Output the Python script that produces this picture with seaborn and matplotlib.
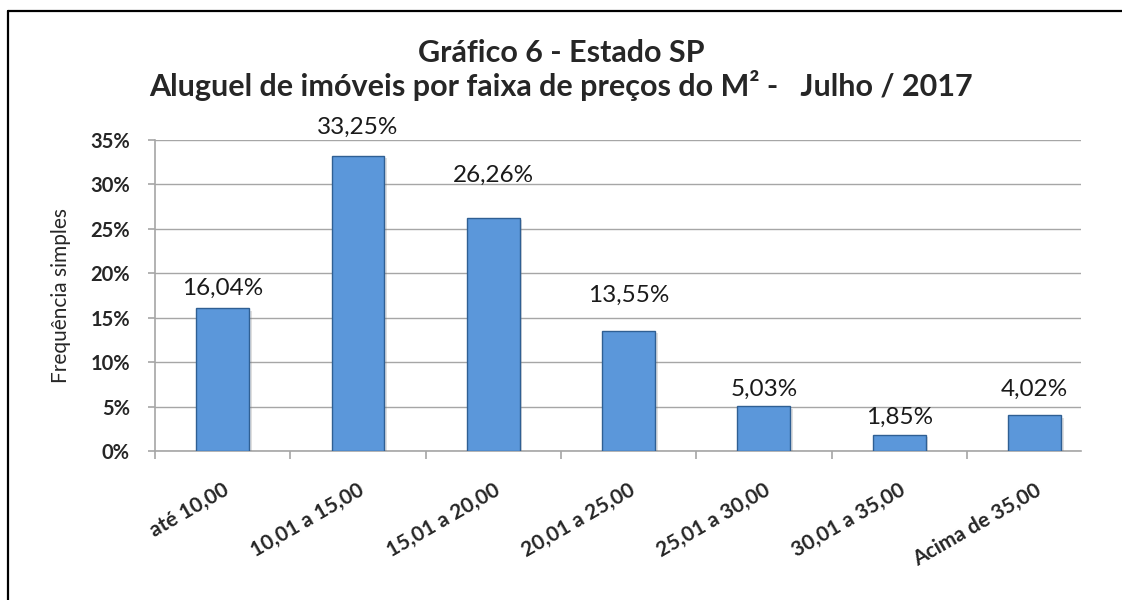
import matplotlib
matplotlib.use("Agg")
import matplotlib.pyplot as plt
import matplotlib.patheffects as pe
import seaborn as sns
from matplotlib.lines import Line2D
from matplotlib.ticker import FuncFormatter

faixas = ["até 10,00", "10,01 a 15,00", "15,01 a 20,00", "20,01 a 25,00",
          "25,01 a 30,00", "30,01 a 35,00", "Acima de 35,00"]
frequencia = [16.04, 33.25, 26.26, 13.55, 5.03, 1.85, 4.02]
rotulos = ["16,04%", "33,25%", "26,26%", "13,55%", "5,03%", "1,85%", "4,02%"]
# distancia (pt) entre o topo da barra e o rotulo, como no grafico original
folga = [7, 13, 23, 18, 5, 5, 11]

titulo1 = "Gráfico 6 - Estado SP"
titulo2 = "Aluguel de imóveis por faixa de preços do M² -   Julho / 2017"

sns.set_style("white")
plt.rcParams["font.family"] = ["Lato", "DejaVu Sans"]

fig = plt.figure(figsize=(11.22, 6), dpi=100)
ax = fig.add_axes([155 / 1122, 149 / 600, 926 / 1122, 311 / 600])

sns.barplot(x=faixas, y=frequencia, color="#5B97DA", width=0.39,
            edgecolor="#2F5F93", linewidth=1.0, saturation=1, ax=ax, zorder=3)

# sombra leve nas barras (efeito do Excel)
for barra in ax.patches:
    barra.set_path_effects([pe.SimplePatchShadow(offset=(2, -2), alpha=0.25,
                                                 shadow_rgbFace="#808080"),
                            pe.Normal()])

ax.set_ylim(0, 35)
ax.set_xlim(-0.5, 6.344)
ax.set_yticks(range(0, 36, 5))
ax.yaxis.set_major_formatter(FuncFormatter(lambda v, p: f"{int(v)}%"))
ax.grid(axis="y", color="#A6A6A6", linewidth=1.0, zorder=0)
ax.grid(axis="x", visible=False)

for s in ["top", "right"]:
    ax.spines[s].set_visible(False)
for s in ["left", "bottom"]:
    ax.spines[s].set_color("#A6A6A6")
    ax.spines[s].set_linewidth(1.2)

ax.set_xticks(range(len(faixas)))
ax.set_xticklabels(faixas, rotation=30, ha="right", va="top",
                   rotation_mode="anchor", fontsize=15, fontweight="bold")
ax.set_xticks([i - 0.5 for i in range(len(faixas))], minor=True)
ax.tick_params(axis="x", which="major", length=0, pad=21)
ax.tick_params(axis="x", which="minor", length=6, color="#A6A6A6", width=1.2,
               direction="out")
ax.tick_params(axis="y", length=5, color="#A6A6A6", width=1.2, direction="out",
               labelsize=14.5, pad=13)
for t in ax.get_yticklabels():
    t.set_fontweight("bold")
ax.tick_params(axis="both", which="both", bottom=True, left=True)

ax.set_xlabel("")
ax.set_ylabel("Frequência simples", fontsize=15, labelpad=14)

for i, (v, r) in enumerate(zip(frequencia, rotulos)):
    ax.annotate(r, (i, v), xytext=(0, folga[i]), textcoords="offset points",
                ha="center", va="bottom", fontsize=17.5, color="#1a1a1a")

fig.text(0.5, 1 - 62 / 600, titulo1, ha="center", va="baseline",
         fontsize=22, fontweight="bold")
fig.text(0.5, 1 - 96 / 600, titulo2, ha="center", va="baseline",
         fontsize=22, fontweight="bold")

# moldura do grafico (so a borda esquerda e a superior aparecem)
fig.add_artist(Line2D([7.5 / 1122, 7.5 / 1122], [0, 1 - 10.5 / 600],
                      transform=fig.transFigure, color="black", linewidth=1.6))
fig.add_artist(Line2D([7.5 / 1122, 1], [1 - 10.5 / 600, 1 - 10.5 / 600],
                      transform=fig.transFigure, color="black", linewidth=1.6))

fig.savefig("out.png", dpi=100, facecolor="white")
